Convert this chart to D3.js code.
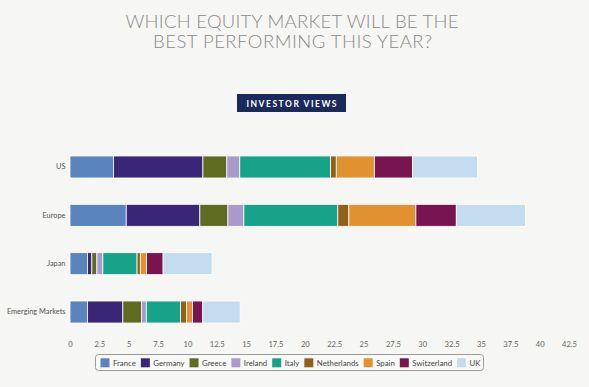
<!DOCTYPE html>
<html>
<head>
<meta charset="utf-8">
<script src="https://cdn.jsdelivr.net/npm/d3@7"></script>
<style>
  body { margin: 0; background: #f6f6f4; }
  svg { display: block; }
</style>
</head>
<body>
<div id="vis"></div>
<script>
const FRAME_WIDTH = 589;
const FRAME_HEIGHT = 387;

// data
const categories = ['US', 'Europe', 'Japan', 'Emerging Markets'];
const countries = ['France', 'Germany', 'Greece', 'Ireland', 'Italy', 'Netherlands', 'Spain', 'Switzerland', 'UK'];
const france      = [3.71, 4.79, 1.49, 1.5];
const germany     = [7.61, 6.27, 0.37, 3.0];
const greece      = [2.04, 2.39, 0.43, 1.6];
const ireland     = [1.1, 1.36, 0.51, 0.4];
const italy       = [7.73, 8.0, 2.91, 2.92];
const netherlands = [0.49, 0.94, 0.28, 0.51];
const spain       = [3.24, 5.71, 0.53, 0.51];
const switzerland = [3.25, 3.44, 1.41, 0.87];
const uk          = [5.54, 5.89, 4.17, 3.18];
const tickValues = [0, 2.5, 5, 7.5, 10, 12.5, 15, 17.5, 20, 22.5, 25, 27.5, 30, 32.5, 35, 37.5, 40, 42.5];

const colors = ['#5a84bd', '#3a2677', '#5f6b21', '#a99acb', '#17a389', '#935f1c', '#e1912f', '#781450', '#c3dcee'];

const seriesValues = [france, germany, greece, ireland, italy, netherlands, spain, switzerland, uk];

// build rows for the stack
const rows = categories.map((c, i) => {
  const row = {category: c};
  countries.forEach((k, j) => { row[k] = seriesValues[j][i]; });
  return row;
});

const stacked = d3.stack().keys(countries)(rows);

const FONT = 'Lato, "Open Sans", sans-serif';

const FRAME = d3.select('#vis')
  .append('svg')
    .attr('width', FRAME_WIDTH)
    .attr('height', FRAME_HEIGHT)
    .style('font-family', FONT);

// title
const title = FRAME.append('g').attr('fill', '#8a8a8a');
title.append('text')
  .attr('x', 292).attr('y', 28)
  .attr('text-anchor', 'middle')
  .attr('font-size', 18.5)
  .attr('font-weight', 300)
  .attr('textLength', 333)
  .attr('lengthAdjust', 'spacing')
  .text('WHICH EQUITY MARKET WILL BE THE');
title.append('text')
  .attr('x', 292.5).attr('y', 48)
  .attr('text-anchor', 'middle')
  .attr('font-size', 18.5)
  .attr('font-weight', 300)
  .attr('textLength', 279)
  .attr('lengthAdjust', 'spacing')
  .text('BEST PERFORMING THIS YEAR?');

// badge
FRAME.append('rect')
  .attr('x', 237).attr('y', 94)
  .attr('width', 109).attr('height', 18)
  .attr('fill', '#1b2a5c');
FRAME.append('text')
  .attr('x', 291.5).attr('y', 106.5)
  .attr('text-anchor', 'middle')
  .attr('fill', '#ffffff')
  .attr('font-size', 8.5)
  .attr('font-weight', 700)
  .attr('textLength', 90)
  .attr('lengthAdjust', 'spacing')
  .text('INVESTOR VIEWS');

// scales
const X_SCALE = d3.scaleLinear().domain([0, 42.5]).range([70, 569]);
const Y_SCALE = d3.scaleBand()
  .domain(categories)
  .range([142.8, 336.2])
  .paddingInner(0.545)
  .paddingOuter(0.2725);

// bars
FRAME.append('g').selectAll('g')
  .data(stacked)
  .enter()
  .append('g')
    .attr('fill', (d, i) => colors[i])
  .selectAll('rect')
  .data(d => d)
  .enter()
  .append('rect')
    .attr('x', d => X_SCALE(d[0]))
    .attr('y', d => Y_SCALE(d.data.category))
    .attr('width', d => X_SCALE(d[1]) - X_SCALE(d[0]))
    .attr('height', Y_SCALE.bandwidth())
    .attr('stroke', '#ffffff')
    .attr('stroke-width', 0.8);

// category labels
const yAxis = FRAME.append('g')
  .attr('transform', 'translate(65.5,0)')
  .call(d3.axisLeft(Y_SCALE).tickSize(0).tickPadding(0));
yAxis.select('.domain').remove();
yAxis.selectAll('text')
  .style('fill', '#555')
  .style('font-size', '7.4px')
  .style('font-family', FONT);

// x axis labels
const xAxis = FRAME.append('g')
  .attr('transform', 'translate(0,342)')
  .call(d3.axisBottom(X_SCALE).tickValues(tickValues).tickSize(0).tickPadding(0).tickFormat(d3.format('')));
xAxis.select('.domain').remove();
xAxis.selectAll('text')
  .style('fill', '#666')
  .style('font-size', '7.6px')
  .style('font-family', FONT);

// legend
const legend = FRAME.append('g');
legend.append('rect')
  .attr('x', 95.5).attr('y', 354.5)
  .attr('width', 388).attr('height', 16)
  .attr('rx', 3)
  .attr('fill', '#f9f9f8')
  .attr('stroke', '#9a9a9a')
  .attr('stroke-width', 1);

let lx = 100.5;
countries.forEach((c, i) => {
  legend.append('rect')
    .attr('x', lx).attr('y', 358.3)
    .attr('width', 9).attr('height', 9)
    .attr('fill', colors[i]);
  const t = legend.append('text')
    .attr('x', lx + 12.5).attr('y', 365.5)
    .style('fill', '#444')
    .style('font-size', '7.8px')
    .text(c);
  lx += 12.5 + t.node().getComputedTextLength() + 5;
});
</script>
</body>
</html>
